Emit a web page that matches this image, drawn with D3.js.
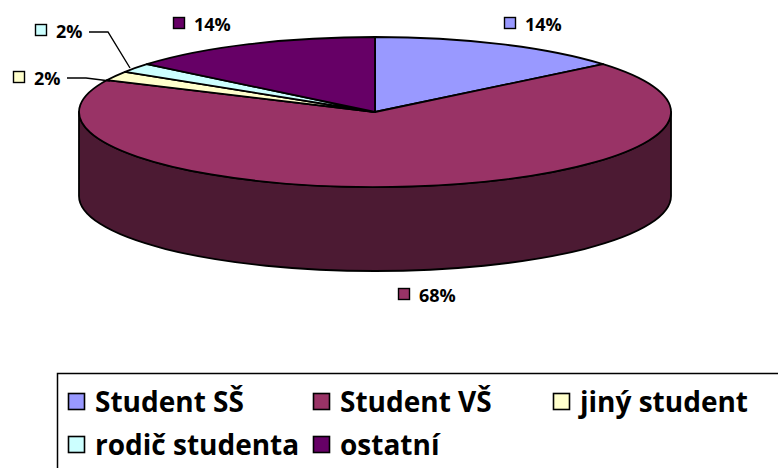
<!DOCTYPE html>
<html>
<head>
<meta charset="utf-8">
<script src="https://cdn.jsdelivr.net/npm/d3@7"></script>
<style>
  body { margin: 0; background: #fff; }
  svg { display: block; font-family: "Open Sans", Lato, sans-serif; font-weight: bold; }
</style>
</head>
<body>
<div id="chart"></div>
<script>
const categories = ["Student SŠ", "Student VŠ", "jiný student", "rodič studenta", "ostatní"];
const values = [14, 68, 2, 2, 14];
const labels = ["14%", "68%", "2%", "2%", "14%"];
const colors = ["#9999FF", "#993366", "#FFFFCC", "#CCFFFF", "#660066"];
const sideColors = ["#4C4C80", "#4C1A33", "#808066", "#668080", "#330033"];

const W = 778, H = 468;
const cx = 375, cy = 112, rx = 296, ry = 75, depth = 84;

// label layout: key square left edge, text baseline
const labelPos = [[504, 31], [398, 302], [13, 85], [35, 38], [173, 31]];
const leaders = [
	[[67, 78], [86, 78], [110, 81]],
	[[89, 32], [108, 32], [130, 68]]
];

// legend layout: key left edge, text baseline
const legendPos = [[68, 412], [313, 412], [553, 412], [68, 455], [313, 455]];

const svg = d3.select("#chart").append("svg")
	.attr("width", W)
	.attr("height", H);

const pie = d3.pie().sort(null).value(d => d)(values);

const pt = (a, dy = 0) => [cx + rx * Math.sin(a), cy - ry * Math.cos(a) + dy];

// side walls (front half only)
pie.forEach((d, i) => {
	const s = Math.max(d.startAngle, Math.PI / 2);
	const e = Math.min(d.endAngle, 3 * Math.PI / 2);
	if (e <= s) return;
	const path = `M${pt(s)}A${rx},${ry} 0 0 1 ${pt(e)}L${pt(e, depth)}A${rx},${ry} 0 0 0 ${pt(s, depth)}Z`;
	svg.append("path")
		.attr("d", path)
		.attr("fill", sideColors[i])
		.attr("stroke", "#000")
		.attr("stroke-width", 1.8)
		.attr("stroke-linejoin", "round");
});

// top faces
pie.forEach((d, i) => {
	const large = d.endAngle - d.startAngle > Math.PI ? 1 : 0;
	const path = `M${cx},${cy}L${pt(d.startAngle)}A${rx},${ry} 0 ${large} 1 ${pt(d.endAngle)}Z`;
	svg.append("path")
		.attr("d", path)
		.attr("fill", colors[i])
		.attr("stroke", "#000")
		.attr("stroke-width", 1.8)
		.attr("stroke-linejoin", "round");
});

// leader lines for the small slices
leaders.forEach(pts => {
	svg.append("path")
		.attr("d", d3.line()(pts))
		.attr("fill", "none")
		.attr("stroke", "#000")
		.attr("stroke-width", 1.4);
});

// data labels
labels.forEach((t, i) => {
	const [x, y] = labelPos[i];
	svg.append("rect")
		.attr("x", x + 0.5).attr("y", y - 13.5)
		.attr("width", 11).attr("height", 11)
		.attr("fill", colors[i])
		.attr("stroke", "#000")
		.attr("stroke-width", 1.4);
	svg.append("text")
		.attr("x", x + 21).attr("y", y)
		.style("font-size", "18px")
		.text(t);
});

// legend
svg.append("rect")
	.attr("x", 57.5).attr("y", 373.5)
	.attr("width", 760).attr("height", 120)
	.attr("fill", "none")
	.attr("stroke", "#000")
	.attr("stroke-width", 1.5);

categories.forEach((c, i) => {
	const [x, y] = legendPos[i];
	svg.append("rect")
		.attr("x", x + 0.5).attr("y", y - 18.5)
		.attr("width", 16).attr("height", 16)
		.attr("fill", colors[i])
		.attr("stroke", "#000")
		.attr("stroke-width", 1.6);
	svg.append("text")
		.attr("x", x + 27).attr("y", y)
		.style("font-size", "28px")
		.text(c);
});
</script>
</body>
</html>
